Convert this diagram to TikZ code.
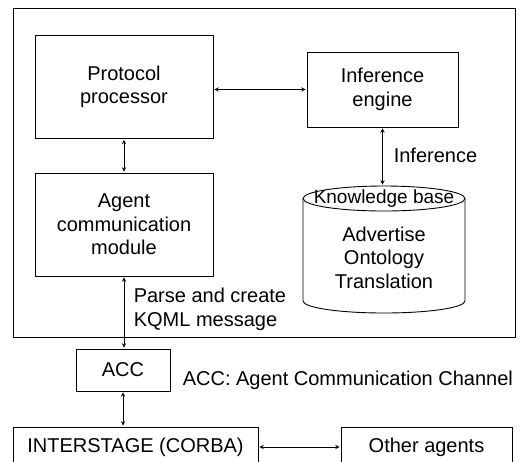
\documentclass[tikz,border=0pt]{standalone}
\usepackage{fontspec}
\setmainfont{Liberation Sans}
\usetikzlibrary{shapes.geometric}
\begin{document}
\begin{tikzpicture}[x=1pt,y=-1pt,>=stealth,line width=0.9pt,
    font=\fontsize{20}{23.5}\selectfont,
    box/.style={draw,align=center,inner sep=0pt},
    link/.style={<->,shorten <=1pt,shorten >=1pt}]
    \useasboundingbox (0,0) rectangle (521,461);
    \clip (0,0) rectangle (521,461);
    % agent frame
    \draw (13,8) rectangle (515,337);
    \node[box,minimum width=178,minimum height=103] (proto) at (124,87) {Protocol\\processor};
    \node[box,minimum width=151,minimum height=75] (infer) at (382.5,89.5) {Inference\\engine};
    \node[box,minimum width=178,minimum height=103] (acm) at (124,224.5) {Agent\\communication\\module};
    % knowledge base cylinder
    \draw (303,198.5) -- (303,301) arc[start angle=180,end angle=0,x radius=81,y radius=12] -- (465,198.5);
    \node[ellipse,draw,fill=white,minimum width=162,minimum height=25,inner sep=0pt] (kbcap) at (384,198.5) {};
    \node[font=\fontsize{19}{21}\selectfont] (kbname) at (kbcap) {Knowledge base};
    \node[align=center] (kbbody) at (384,257.5) {Advertise\\Ontology\\Translation};
    % outside the agent
    \node[box,minimum width=94,minimum height=42] (acc) at (123,370) {ACC};
    \node[box,minimum width=245,minimum height=40] (inter) at (135.5,447) {INTERSTAGE (CORBA)};
    \node[box,minimum width=171,minimum height=40] (other) at (426.5,447) {Other agents};
    % labels
    \node[anchor=west] (inflabel) at (390,155) {Inference};
    \node[anchor=west,align=left] (parselabel) at (130,309.5) {Parse and create\\KQML message};
    \node[anchor=west] (acclabel) at (179,380) {ACC: Agent Communication Channel};
    % connectors
    \draw[link] (infer.west -| proto.east) -- (infer.west);
    \draw[link] (proto) -- (acm);
    \draw[link] (infer.south) -- (infer.south |- kbcap.north);
    \draw[link] (acm.south) -- (acm.south |- acc.north);
    \draw[link] (acc.south) -- (acc.south |- inter.north);
    \draw[link] (inter) -- (other);
\end{tikzpicture}
\end{document}
